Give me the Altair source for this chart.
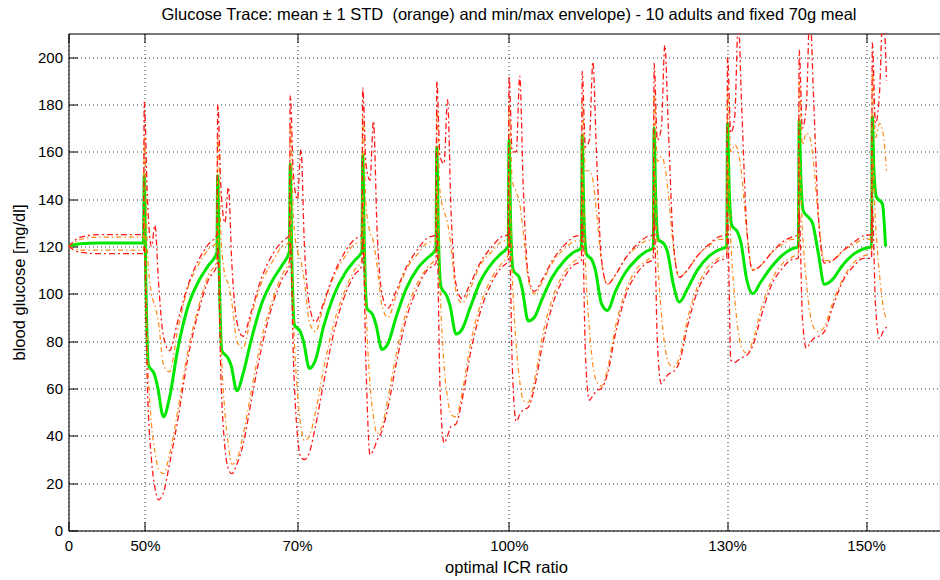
import altair as alt
import pandas as pd

# ---------------- data ----------------
# time axis in hours; meals (one per ICR setting) happen at these times
meal_times = [24.7, 48.9, 72.8, 96.7, 121.1, 144.9, 169.0, 192.7, 216.9, 240.5, 264.6]

# x tick positions (hours) and their labels
tick_pos = [0, 25.2, 75.3, 145.1, 217.0, 262.8]
tick_labels = ["0", "50%", "70%", "100%", "130%", "150%"]
y_ticks = [0, 20, 40, 60, 80, 100, 120, 140, 160, 180, 200]

# sampling offsets after each meal (hours)
mean_off = [0, 0.25, 0.79, 1.62, 3.59, 4.62, 6.59, 8.57, 11.21, 14.51, 18.46, 21.43]
env_off = [0, 0.26, 1.32, 2.64, 3.79, 4.95, 6.59, 8.57, 11.21, 14.51, 18.46, 21.43]

# fasting segment before the first meal
init_t = [0, 4, 10]
init_mean = [120.3, 121.2, 121.5]
init_ustd = [120, 123, 124]
init_lstd = [120, 118.5, 118.5]
init_max = [120, 124, 125]
init_min = [120, 117.5, 117]

mean_ep = [
    [121.5, 150, 105, 70, 66, 61, 48, 56, 76, 94, 106, 112],
    [117.5, 150, 108, 76, 73, 70, 59, 66, 80, 95, 106, 112],
    [118, 155, 115, 87, 84, 80, 68.5, 72, 86, 99, 109, 114],
    [118, 159, 120, 94, 91, 87, 76.5, 79, 90, 102, 111, 115],
    [119, 162, 125, 103, 99, 95, 83, 85, 94, 105, 113, 117],
    [120, 165, 130, 110, 107, 102, 88.5, 90, 98, 107, 114, 117.5],
    [119.5, 167, 135, 117, 114, 110, 96, 93, 101, 109, 115, 118],
    [119.5, 170, 140, 123, 121, 118, 104, 96.5, 102, 110, 116, 118.5],
    [120, 172, 145, 129, 126, 122, 106, 100, 105, 111, 116.5, 119],
    [120, 173.5, 150, 135, 132, 130, 117, 104, 106, 112, 117, 119],
    [120, 175, 152, 141, 138, 120],
]

ustd_ep = [
    [124, 166, 118, 100, 95, 88, 70, 67, 84, 102, 113, 119],
    [122, 168, 125, 108, 104, 96, 80, 77, 90, 104, 114, 120],
    [122, 172, 132, 118, 114, 105, 88, 84, 95, 107, 116, 121],
    [122, 175, 138, 126, 122, 112, 95, 90, 99, 110, 117, 121.5],
    [122.5, 178, 143, 135, 130, 120, 101, 96, 102, 112, 118, 122],
    [123, 180, 148, 143, 138, 126, 106, 100, 105, 113, 119, 122],
    [123, 182, 152, 152, 148, 135, 114, 104, 108, 115, 120, 122.5],
    [123, 185, 156, 158, 154, 142, 120, 107, 110, 116, 120.5, 123],
    [123, 188, 160, 163, 160, 150, 126, 110, 112, 117, 121, 123],
    [123, 190, 163, 168, 166, 156, 132, 114, 114, 118, 121, 123],
    [123, 194, 166, 172, 168, 152],
]

lstd_ep = [
    [118.5, 132, 75, 45, 33, 26, 24, 32, 50, 75, 96, 108],
    [114, 132, 80, 50, 36, 28, 30, 40, 58, 80, 98, 108],
    [114, 138, 90, 58, 44, 38, 40, 50, 68, 87, 102, 110],
    [114.5, 142, 95, 62, 48, 41, 44, 56, 74, 92, 105, 111],
    [115.5, 146, 102, 70, 56, 49, 48, 58, 78, 95, 107, 112.5],
    [116.5, 150, 108, 78, 63, 55, 54, 63, 82, 98, 109, 113.5],
    [116.5, 152, 113, 85, 70, 63, 61, 68, 86, 101, 111, 114],
    [116.5, 155, 118, 92, 78, 71, 69, 73, 89, 103, 112, 115],
    [117, 157, 123, 98, 84, 77, 75, 80, 93, 105, 113, 115.5],
    [117, 158, 127, 105, 92, 86, 84, 86, 96, 106, 113.5, 116],
    [117, 158, 130, 108, 95, 89],
]

max_ep = [
    [125, 181, 140, 120, 129, 105, 82, 76, 88, 103, 115, 121],
    [125, 180, 145, 130, 145, 112, 88, 82, 92, 106, 117, 122],
    [125, 184, 150, 140, 161, 120, 95, 88, 96, 108, 118, 123],
    [125, 187, 155, 148, 173, 128, 100, 94, 101, 111, 119, 123.5],
    [125, 190, 158, 155, 182, 135, 104, 98, 104, 113, 120, 124],
    [125, 192, 160, 160, 192, 145, 108, 101, 106, 114, 120.5, 124],
    [125, 194, 162, 165, 198, 160, 115, 104, 108, 115, 121, 124],
    [125, 197.5, 165, 170, 205, 170, 122, 107, 110, 116, 121, 124],
    [125, 200, 168, 175, 215, 178, 128, 110, 112, 117, 122, 124],
    [125, 203, 170, 180, 220, 185, 133, 113, 114, 118, 122, 124.5],
    [125, 206, 172, 185, 220, 190],
]

min_ep = [
    [117, 120, 60, 30, 18, 13, 16, 28, 46, 72, 94, 106],
    [112, 120, 65, 35, 26, 24, 28, 36, 54, 76, 96, 106],
    [112, 122, 72, 40, 31, 30, 33, 44, 62, 83, 100, 108],
    [112, 124, 70, 32, 34, 38, 42, 52, 70, 89, 103, 110],
    [113, 126, 60, 37, 40, 44, 45, 55, 74, 92, 105, 111],
    [114, 128, 70, 46, 49, 51, 52, 60, 78, 95, 107, 112],
    [114, 130, 75, 55, 57, 59, 60, 66, 83, 99, 109, 113],
    [114.5, 132, 80, 62, 64, 66, 67, 71, 86, 101, 110, 114],
    [115, 134, 72, 71, 72, 73, 74, 78, 90, 103, 111, 114.5],
    [115, 135, 90, 77, 79, 81, 82, 84, 94, 105, 112, 115],
    [115, 136, 95, 81, 84, 86],
]

TITLE = ("Glucose Trace: mean \u00b1 1 STD \u00a0(orange) and min/max envelope)"
         " - 10 adults and fixed 70g meal")


def build(name, init_vals, offs, eps):
    rows = [{"t": t, "v": v, "s": name} for t, v in zip(init_t, init_vals)]
    for m, vals in zip(meal_times, eps):
        for o, v in zip(offs, vals):
            rows.append({"t": round(m + o, 3), "v": v, "s": name})
    return rows


rows = []
rows += build("mean", init_mean, mean_off, mean_ep)
rows += build("ustd", init_ustd, env_off, ustd_ep)
rows += build("lstd", init_lstd, env_off, lstd_ep)
rows += build("max", init_max, env_off, max_ep)
rows += build("min", init_min, env_off, min_ep)
df = pd.DataFrame(rows)
ticks_df = pd.DataFrame({"pos": tick_pos, "lab": tick_labels})
yt_df = pd.DataFrame({"yv": y_ticks})

W, H = 871, 497
FONT = "Liberation Sans"
xs = alt.Scale(domain=[0, 287], nice=False, zero=False)
ys = alt.Scale(domain=[0, 210], nice=False, zero=False)

label_expr = " : ".join(
    f"datum.value == {p} ? '{l}'" for p, l in zip(tick_pos, tick_labels)
) + " : ''"

x_main_axis = alt.Axis(
    values=tick_pos, labelExpr=label_expr, grid=True, gridDash=[1, 3],
    gridColor="#000000", gridOpacity=0.8, ticks=False, domain=True,
    domainColor="#000000", labelFont=FONT, labelFontSize=15, labelColor="#000000",
    labelPadding=8, labelFlush=False, labelOverlap=False, title="optimal ICR ratio",
    titleFont=FONT, titleFontSize=16.5, titleFontWeight="normal", titleColor="#000000",
    titleBaseline="middle", titleY=36.5, titleX=W / 2 + 2,
)
y_main_axis = alt.Axis(
    values=y_ticks, grid=True, gridDash=[1, 3], gridColor="#000000", gridOpacity=0.8,
    ticks=False, domain=True, domainColor="#000000", labelFont=FONT, labelFontSize=15,
    labelColor="#000000", labelPadding=6, labelFlush=False, labelOverlap=False,
    title="blood glucose [mg/dl]", titleFont=FONT, titleFontSize=16.5,
    titleFontWeight="normal", titleColor="#000000", titleBaseline="middle",
    titleX=-49, titleY=H / 2, titleAngle=270,
)

base = alt.Chart(df)

red_lines = base.transform_filter(
    alt.FieldOneOfPredicate(field="s", oneOf=["max", "min"])
).mark_line(color="#ff1a1a", strokeWidth=1.3, strokeDash=[6, 3, 2, 3],
            interpolate="monotone", clip=True).encode(
    x=alt.X("t:Q", scale=xs, axis=x_main_axis),
    y=alt.Y("v:Q", scale=ys, axis=y_main_axis),
    detail="s:N", order="t:Q",
)

orange_lines = base.transform_filter(
    alt.FieldOneOfPredicate(field="s", oneOf=["ustd", "lstd"])
).mark_line(color="#ff8a14", strokeWidth=1.2, strokeDash=[5, 3, 1.5, 3],
            interpolate="monotone", clip=True).encode(
    x=alt.X("t:Q", scale=xs, axis=None),
    y=alt.Y("v:Q", scale=ys, axis=None),
    detail="s:N", order="t:Q",
)

mean_line = base.transform_filter(alt.datum.s == "mean").mark_line(
    color="#00e600", strokeWidth=3, interpolate="monotone", clip=True
).encode(
    x=alt.X("t:Q", scale=xs, axis=None),
    y=alt.Y("v:Q", scale=ys, axis=None),
    order="t:Q",
)

# top border with inward ticks
top_axis = alt.Chart(ticks_df).mark_point(opacity=0).encode(
    x=alt.X("pos:Q", scale=xs, axis=alt.Axis(
        orient="bottom", offset=-H, values=tick_pos, labels=False, grid=False,
        ticks=True, tickSize=9, tickColor="#000000", domain=True,
        domainColor="#000000", title=None)),
    y=alt.value(H / 2),
)
# inward ticks along the bottom
bottom_ticks = alt.Chart(ticks_df).mark_point(opacity=0).encode(
    x=alt.X("pos:Q", scale=xs, axis=alt.Axis(
        orient="top", offset=-H, values=tick_pos, labels=False, grid=False,
        ticks=True, tickSize=9, tickColor="#000000", domain=False, title=None)),
    y=alt.value(H / 2),
)
# inward ticks along the left side
left_ticks = alt.Chart(yt_df).mark_point(opacity=0).encode(
    x=alt.value(W / 2),
    y=alt.Y("yv:Q", scale=ys, axis=alt.Axis(
        orient="right", offset=-W, values=y_ticks, labels=False, grid=False,
        ticks=True, tickSize=9, tickColor="#000000", domain=False, title=None)),
)

chart = alt.layer(
    mean_line, orange_lines, red_lines, top_axis, bottom_ticks, left_ticks
).resolve_axis(x="independent", y="independent").properties(
    width=W, height=H,
    title=alt.TitleParams(TITLE, font=FONT, fontSize=16.5, fontWeight="normal",
                          color="#000000", anchor="middle", offset=10, dx=5),
    autosize=alt.AutoSizeParams(type="none"),
    padding={"left": 68.5, "top": 33.5, "right": 0, "bottom": 50},
).configure_view(stroke=None).configure(background="white")

chart.save("out.html", embed_options={"renderer": "svg", "actions": False})
